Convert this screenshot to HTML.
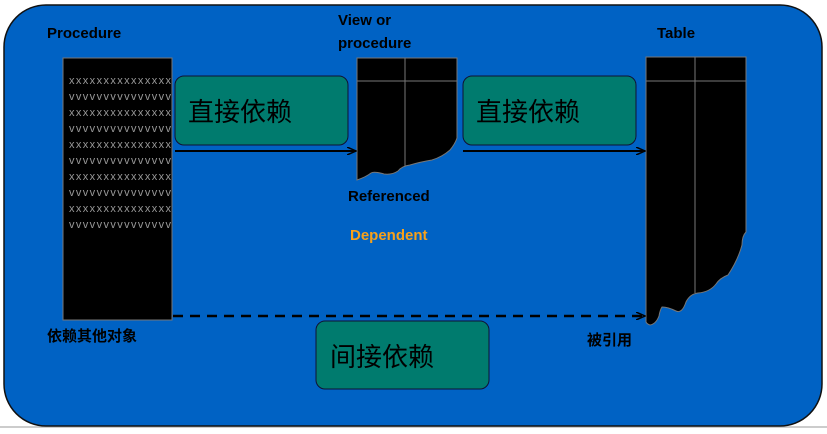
<!DOCTYPE html>
<html><head><meta charset="utf-8"><style>
body{margin:0;width:827px;height:429px;background:#fff;overflow:hidden}
svg text{font-family:"Liberation Sans","Noto Sans CJK SC",sans-serif}
</style></head><body>
<svg width="827" height="429" viewBox="0 0 827 429" xmlns="http://www.w3.org/2000/svg">
<defs>
<marker id="ah" markerWidth="10" markerHeight="8" refX="9" refY="4" orient="auto" markerUnits="userSpaceOnUse"><path d="M0,0 L9,4 L0,8" fill="none" stroke="#000" stroke-width="1.5"/></marker>
</defs>
<line x1="0" y1="427" x2="827" y2="427" stroke="#ccc" stroke-width="2"/>
<rect x="4" y="5" width="818" height="421" rx="42" fill="#0062c4" stroke="#111" stroke-width="1.5"/>
<!-- procedure block -->
<rect x="63" y="58" width="109" height="262" fill="#000" stroke="#777"/>
<g font-size="11" fill="#999" font-family="Liberation Sans,sans-serif">
<text x="69" y="84" textLength="102">xxxxxxxxxxxxxxx</text>
<text x="69" y="100" textLength="102">vvvvvvvvvvvvvvv</text>
<text x="69" y="116" textLength="102">xxxxxxxxxxxxxxx</text>
<text x="69" y="132" textLength="102">vvvvvvvvvvvvvvv</text>
<text x="69" y="148" textLength="102">xxxxxxxxxxxxxxx</text>
<text x="69" y="164" textLength="102">vvvvvvvvvvvvvvv</text>
<text x="69" y="180" textLength="102">xxxxxxxxxxxxxxx</text>
<text x="69" y="196" textLength="102">vvvvvvvvvvvvvvv</text>
<text x="69" y="212" textLength="102">xxxxxxxxxxxxxxx</text>
<text x="69" y="228" textLength="102">vvvvvvvvvvvvvvv</text>
</g>
<!-- view shape -->
<path d="M357,58 H457 V138 Q455,144 450,150 Q442,157 432,160 Q420,162 410,165 Q402,166 398,171 Q392,175 384,174 Q374,171 371,173 Q366,177 357,180 Z" fill="#000" stroke="#777"/>
<line x1="357" y1="81" x2="457" y2="81" stroke="#777"/>
<line x1="405" y1="58" x2="405" y2="166" stroke="#777"/>
<!-- table shape -->
<path d="M646,57 H746 V232 Q742,236 742,245 Q738,260 728,275 Q720,278 716,284 Q710,292 698,293 Q690,294 686,302 Q682,314 676,311 Q668,307 662,307 Q660,310 659,316 Q656,324 650,325 Q647,324 646,322 Z" fill="#000" stroke="#777"/>
<line x1="646" y1="81" x2="746" y2="81" stroke="#777"/>
<line x1="695" y1="57" x2="695" y2="293" stroke="#777"/>
<!-- green boxes -->
<rect x="175" y="76" width="173" height="69" rx="9" fill="#007b6e" stroke="#113" stroke-width="1"/>
<text x="188" y="121" font-size="26" fill="#000">直接依赖</text>
<rect x="463" y="76" width="173" height="69" rx="9" fill="#007b6e" stroke="#113" stroke-width="1"/>
<text x="476" y="121" font-size="26" fill="#000">直接依赖</text>
<rect x="316" y="321" width="173" height="68" rx="9" fill="#007b6e" stroke="#113" stroke-width="1"/>
<text x="330" y="366" font-size="26" fill="#000">间接依赖</text>
<!-- arrows -->
<line x1="175" y1="151" x2="356" y2="151" stroke="#000" stroke-width="2" marker-end="url(#ah)"/>
<line x1="463" y1="151" x2="645" y2="151" stroke="#000" stroke-width="2" marker-end="url(#ah)"/>
<line x1="173" y1="316" x2="645" y2="316" stroke="#000" stroke-width="2.5" stroke-dasharray="10,7" marker-end="url(#ah)"/>
<!-- labels -->
<g font-size="15" font-weight="bold" fill="#000">
<text x="47" y="38">Procedure</text>
<text x="338" y="25">View or</text>
<text x="338" y="48">procedure</text>
<text x="657" y="38">Table</text>
<text x="348" y="201">Referenced</text>
<text x="350" y="240" fill="#f7a11a">Dependent</text>
<text x="47" y="341">依赖其他对象</text>
<text x="587" y="345">被引用</text>
</g>
</svg>
</body></html>
